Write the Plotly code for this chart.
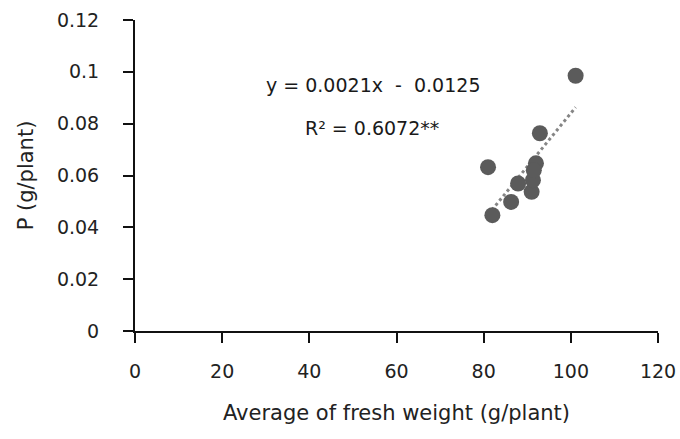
import numpy as np
import plotly.graph_objects as go

# Average fresh weight (g/plant) and P content (g/plant)
fresh_weight = [101.1, 92.9, 81.0, 82.0, 86.3, 87.9, 91.0, 92.0, 91.3, 91.5]
p_content = [0.0985, 0.0763, 0.0632, 0.0447, 0.0498, 0.0569, 0.0537, 0.0647, 0.0582, 0.0620]

x_ticks = [0, 20, 40, 60, 80, 100, 120]
y_ticks = [0, 0.02, 0.04, 0.06, 0.08, 0.1, 0.12]
y_tick_text = ["0", "0.02", "0.04", "0.06", "0.08", "0.1", "0.12"]

equation_text = "y = 0.0021x  -  0.0125"
r2_text = "R² = 0.6072**"

# Linear trendline fitted to the points
slope, intercept = np.polyfit(fresh_weight, p_content, 1)
x_fit = np.array([min(fresh_weight), max(fresh_weight)])
y_fit = slope * x_fit + intercept

FONT = "DejaVu Sans"

fig = go.Figure()
fig.add_trace(go.Scatter(
    x=x_fit, y=y_fit, mode="lines",
    line=dict(color="#858585", width=3, dash="dot"),
    hoverinfo="skip", showlegend=False,
))
fig.add_trace(go.Scatter(
    x=fresh_weight, y=p_content, mode="markers",
    marker=dict(color="#5b5b5b", size=16, line=dict(width=0)),
    showlegend=False,
))

fig.add_annotation(x=54.6, y=0.0949, xref="x", yref="y", text=equation_text,
                   showarrow=False, font=dict(family=FONT, size=19, color="#1a1a1a"))
fig.add_annotation(x=54.4, y=0.0782, xref="x", yref="y", text=r2_text,
                   showarrow=False, font=dict(family=FONT, size=19, color="#1a1a1a"))

axis_common = dict(
    showgrid=False, zeroline=False, showline=True, linecolor="#111111", linewidth=2,
    ticks="outside", ticklen=10, tickwidth=2, tickcolor="#111111",
    tickfont=dict(family=FONT, size=19, color="#222222"),
    automargin=False,
)

fig.update_xaxes(
    range=[0, 120], tickvals=x_ticks,
    title=dict(text="Average of fresh weight (g/plant)", font=dict(family=FONT, size=21, color="#222222"), standoff=25),
    ticklabelstandoff=12,
    **axis_common,
)
fig.update_yaxes(
    range=[0, 0.12], tickvals=y_ticks, ticktext=y_tick_text,
    title=dict(text="P (g/plant)", font=dict(family=FONT, size=21, color="#222222"), standoff=18),
    ticklabelstandoff=20,
    **axis_common,
)

fig.update_layout(
    width=680, height=439,
    margin=dict(l=135, r=22, t=20, b=108),
    plot_bgcolor="white", paper_bgcolor="white",
)

fig.write_html("out.html")
